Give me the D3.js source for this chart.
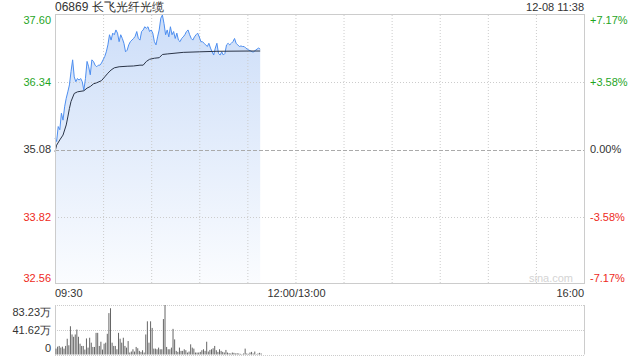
<!DOCTYPE html>
<html>
<head>
<meta charset="utf-8">
<script src="https://cdnjs.cloudflare.com/ajax/libs/d3/7.8.5/d3.min.js"></script>
<style>
  body { margin: 0; background: #fff; }
  svg { display: block; font-family: "Liberation Sans", Arial, sans-serif; }
</style>
</head>
<body>
<div id="chart"></div>
<script>
// stock info
const stockTitle = "06869 长飞光纤光缆";
const stampText = "12-08 11:38";
const prevClose = 35.08;

// price axis ticks (left) and percent ticks (right)
const priceTicks = [37.60, 36.34, 35.08, 33.82, 32.56];
const pctTicks = ["+7.17%", "+3.58%", "0.00%", "-3.58%", "-7.17%"];
const timeLabels = ["09:30", "12:00/13:00", "16:00"];
const volTicks = [83.23, 41.62, 0];

// minute prices since 09:30 (one value per minute)
const prices = [
  35.29, 35.23, 35.51, 35.45, 35.76, 35.63, 35.88, 36.04, 36.16, 36.29,
  36.54, 36.76, 36.44, 36.35, 36.41, 36.38, 36.41, 36.35, 36.19, 36.41,
  36.73, 36.63, 36.48, 36.76, 36.73, 36.66, 36.63, 36.66, 36.66, 36.70,
  36.76, 36.82, 36.91, 37.04, 37.23, 37.13, 37.26, 37.23, 37.32, 37.26,
  37.10, 37.23, 37.16, 37.07, 36.91, 36.94, 37.04, 37.10, 37.13, 37.16,
  37.20, 37.29, 37.16, 37.13, 37.29, 37.32, 37.38, 37.35, 37.38, 37.29,
  37.32, 37.26, 37.10, 37.04, 37.19, 37.32,
  37.54, 37.60, 37.44, 37.23, 37.32, 37.19, 37.38, 37.23, 37.29, 37.16,
  37.26, 37.13, 37.10, 37.16, 37.19, 37.23, 37.29, 37.32, 37.23, 37.16,
  37.13, 37.19, 37.23, 37.26, 37.19, 37.10, 37.10, 37.07, 37.04, 37.01,
  37.07, 36.98, 36.91, 36.85, 36.98, 37.07, 36.88, 36.85, 36.91, 36.85,
  36.88, 37.04, 37.07, 37.04, 37.07, 37.10, 37.16, 37.07, 37.04, 37.01,
  37.02, 37.01, 37.01, 36.98, 36.96, 36.94, 36.93, 36.91, 36.91, 36.94,
  36.96, 36.98, 36.96
];

// average price line, [minute, price]
const avgMinutes = [0, 1, 3, 5, 7, 8, 9, 10, 12, 14, 18, 20, 22, 24, 26, 29, 31, 33, 35, 37,
  40, 45, 49, 53, 55, 57, 59, 62, 65, 67, 70, 80, 90, 101, 121, 128];
const avgPrices = [35.04, 35.16, 35.26, 35.35, 35.54, 35.69, 35.85, 35.98, 36.13, 36.16,
  36.18, 36.23, 36.26, 36.31, 36.33, 36.37, 36.44, 36.51, 36.57, 36.61,
  36.63, 36.64, 36.645, 36.66, 36.66, 36.73, 36.77, 36.79, 36.80, 36.86,
  36.87, 36.90, 36.91, 36.92, 36.925, 36.925];

// minute volume, in 万
const volumes = [
  9.9, 13.2, 14.4, 11.6, 13.2, 9.9, 14.4, 26.5, 15.5, 47.5,
  33.7, 29.8, 33.7, 42.0, 29.8, 18.2, 14.4, 14.4, 8.3, 27.0,
  11.6, 28.2, 19.9, 12.7, 12.7, 36.4, 36.4, 14.4, 21.5, 8.3,
  18.2, 19.9, 34.8, 69.6, 77.8, 19.9, 14.4, 14.4, 8.8, 36.4,
  26.5, 19.9, 28.2, 14.4,
  11.6, 22.6, 3.3, 5.0, 8.8, 5.0, 12.7, 10.5, 6.1, 4.4,
  7.2, 3.3, 33.7, 55.8, 19.9, 55.8, 44.7, 9.9, 9.9, 8.8,
  11.6, 8.8, 8.8, 59.6, 83.23, 12.7, 8.8, 8.8, 11.6, 43.1,
  25.4, 6.1, 4.4, 11.6, 6.1, 6.1, 8.8, 7.2, 3.3, 5.0,
  17.1, 11.6,
  9.9, 3.3, 3.3, 3.3, 4.4, 7.2, 8.8, 6.1, 21.5, 5.0,
  7.7, 8.8, 10.5, 14.4, 7.2, 4.4, 8.8, 6.1, 4.4, 3.3,
  7.7, 3.3, 2.2, 1.7, 3.3, 2.8, 1.7, 2.2, 1.7, 1.1,
  0.6, 1.7, 9.9, 1.7, 1.1, 3.3, 4.4, 1.7, 5.0, 0.6,
  1.7, 2.8, 1.7
];

const width = 640, height = 360;
const left = 55, right = 584;
const priceTop = 15, priceBottom = 284;
const volTop = 305, volBottom = 354.5;
const totalMinutes = 330;
const green = "#1fa51f", red = "#ee2a22", textColor = "#333";

const svg = d3.select("#chart").append("svg")
  .attr("width", width)
  .attr("height", height);

const x = d3.scaleLinear().domain([0, totalMinutes]).range([left, right]);
const y = d3.scaleLinear().domain([priceTicks[4], priceTicks[0]]).range([priceBottom, priceTop]);
const yVol = d3.scaleLinear().domain([0, volTicks[0]]).range([volBottom, volTop]);

// gradient for the area
const defs = svg.append("defs");
const grad = defs.append("linearGradient")
  .attr("id", "areaFill")
  .attr("x1", 0).attr("y1", 0).attr("x2", 0).attr("y2", 1);
grad.append("stop").attr("offset", "0%").attr("stop-color", "#cadcf8").attr("stop-opacity", 0.95);
grad.append("stop").attr("offset", "100%").attr("stop-color", "#cadcf8").attr("stop-opacity", 0.08);

// price area
const area = d3.area()
  .x((d, i) => x(i))
  .y0(priceBottom)
  .y1(d => y(d));
svg.append("path")
  .datum(prices)
  .attr("d", area)
  .attr("fill", "url(#areaFill)");

// vertical grid, every 30 minutes
const gridMinutes = d3.range(30, totalMinutes, 30);
svg.append("g")
  .selectAll("line")
  .data(gridMinutes)
  .enter().append("line")
    .attr("x1", d => x(d) + 0.5).attr("x2", d => x(d) + 0.5)
    .attr("y1", priceTop).attr("y2", priceBottom)
    .attr("stroke", "#ccc")
    .attr("stroke-dasharray", "1,2");

// horizontal grid
svg.append("g")
  .selectAll("line")
  .data(priceTicks.slice(1, 4))
  .enter().append("line")
    .attr("x1", left).attr("x2", right)
    .attr("y1", d => Math.round(y(d)) + 0.5).attr("y2", d => Math.round(y(d)) + 0.5)
    .attr("stroke", d => d === prevClose ? "#aaa" : "#ccc")
    .attr("stroke-dasharray", d => d === prevClose ? "4,2" : "1,2");

// price and average lines
const line = d3.line()
  .x((d, i) => x(i))
  .y(d => y(d));
svg.append("path")
  .datum(prices)
  .attr("d", line)
  .attr("fill", "none")
  .attr("stroke", "#4d8ef0")
  .attr("stroke-width", 1);

const avgLine = d3.line()
  .x(d => x(d[0]))
  .y(d => y(d[1]));
svg.append("path")
  .datum(d3.zip(avgMinutes, avgPrices))
  .attr("d", avgLine)
  .attr("fill", "none")
  .attr("stroke", "#2a3447")
  .attr("stroke-width", 1);

// price panel border
svg.append("rect")
  .attr("x", left + 0.5).attr("y", priceTop - 0.5)
  .attr("width", right - left).attr("height", priceBottom - priceTop)
  .attr("fill", "none")
  .attr("stroke", "#ccc");

// watermark
svg.append("text")
  .attr("x", 573).attr("y", 282)
  .attr("text-anchor", "end")
  .style("font-size", "11px")
  .style("fill", "#d4d4d4")
  .text("sina.com");

// left price labels
function tickColor(i) { return i < 2 ? green : (i > 2 ? red : textColor); }
function clampY(v, lo, hi) { return Math.max(lo, Math.min(hi, v)); }

svg.append("g")
  .selectAll("text")
  .data(priceTicks)
  .enter().append("text")
    .attr("x", 51)
    .attr("y", d => clampY(y(d), 20, 278))
    .attr("dy", "0.35em")
    .attr("text-anchor", "end")
    .style("font-size", "11px")
    .style("fill", (d, i) => tickColor(i))
    .text(d => d.toFixed(2));

svg.append("g")
  .selectAll("text")
  .data(pctTicks)
  .enter().append("text")
    .attr("x", 590)
    .attr("y", (d, i) => clampY(y(priceTicks[i]), 20, 278))
    .attr("dy", "0.35em")
    .style("font-size", "11px")
    .style("fill", (d, i) => tickColor(i))
    .text(d => d);

// title and stamp
svg.append("text")
  .attr("x", 55).attr("y", 11)
  .style("font-size", "12px")
  .style("fill", textColor)
  .text(stockTitle);
svg.append("text")
  .attr("x", right).attr("y", 11)
  .attr("text-anchor", "end")
  .style("font-size", "11px")
  .style("fill", textColor)
  .text(stampText);

// time labels
const timePos = [{ m: 0, a: "start" }, { m: 150, a: "middle" }, { m: totalMinutes, a: "end" }];
svg.append("g")
  .selectAll("text")
  .data(timeLabels)
  .enter().append("text")
    .attr("x", (d, i) => x(timePos[i].m) + (i === 1 ? 1 : 0))
    .attr("y", 297)
    .attr("text-anchor", (d, i) => timePos[i].a)
    .style("font-size", "11px")
    .style("fill", textColor)
    .text(d => d);

// volume panel
svg.append("g")
  .selectAll("line")
  .data(volTicks)
  .enter().append("line")
    .attr("x1", left).attr("x2", right)
    .attr("y1", d => Math.round(yVol(d)) + 0.5).attr("y2", d => Math.round(yVol(d)) + 0.5)
    .attr("stroke", "#ccc")
    .attr("stroke-dasharray", "1,1");
svg.append("line")
  .attr("x1", left + 0.5).attr("x2", left + 0.5)
  .attr("y1", volTop).attr("y2", volBottom)
  .attr("stroke", "#ccc");
svg.append("line")
  .attr("x1", right + 0.5).attr("x2", right + 0.5)
  .attr("y1", volTop).attr("y2", volBottom)
  .attr("stroke", "#ccc");

svg.append("g")
  .selectAll("rect")
  .data(volumes)
  .enter().append("rect")
    .attr("x", (d, i) => x(i) + 0.5)
    .attr("y", d => yVol(d))
    .attr("width", 1)
    .attr("height", d => volBottom - yVol(d))
    .attr("fill", "#666");

svg.append("g")
  .selectAll("text")
  .data(volTicks)
  .enter().append("text")
    .attr("x", 51)
    .attr("y", d => clampY(yVol(d), 312, 348))
    .attr("dy", "0.35em")
    .attr("text-anchor", "end")
    .style("font-size", "11px")
    .style("fill", textColor)
    .text(d => d === 0 ? "0" : d.toFixed(2) + "万");
</script>
</body>
</html>
